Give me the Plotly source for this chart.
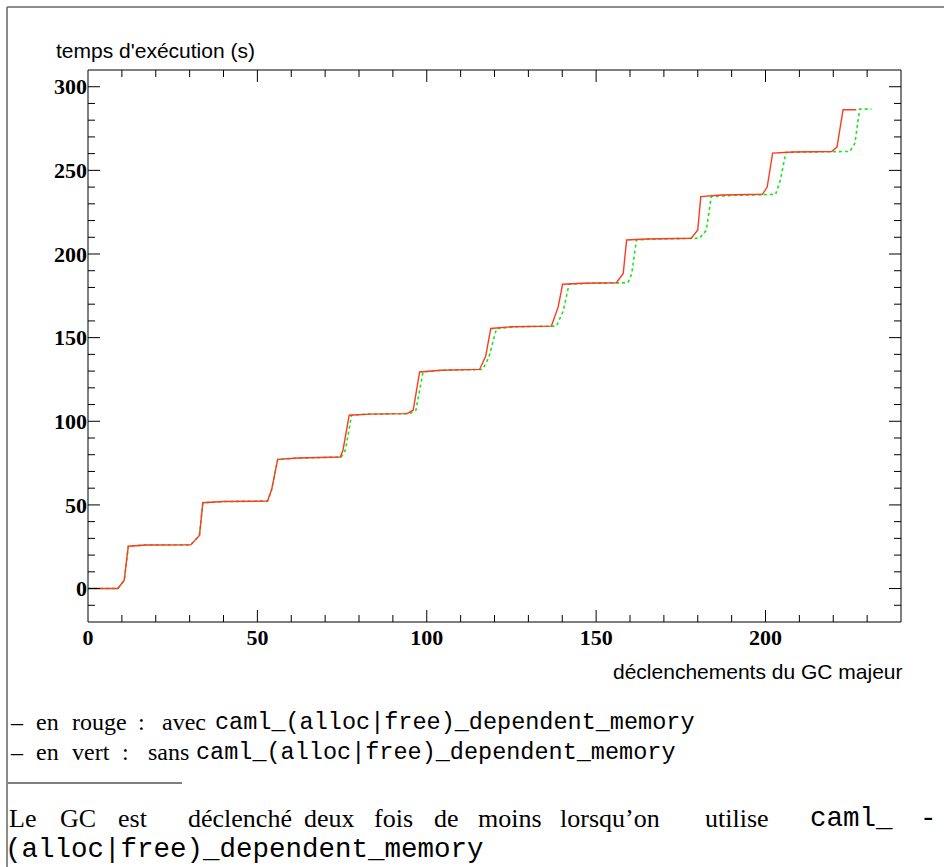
import plotly.graph_objects as go

# ---------------- data ----------------
red_x = [0, 8.8, 10.7, 11.9, 17, 30.3, 32.9, 33.9, 40, 53, 54.2, 56, 62, 74.5, 75.3, 77.1,
         83, 94.2, 96, 97.9, 104, 115.6, 117.4, 118.9, 125, 136.8, 138.8, 140.1, 146, 156,
         158, 159, 165, 178.1, 180, 180.9, 187, 199.1, 200.5, 202.1, 208, 219.5, 221.1,
         222.9, 226.8]
red_y = [0, 0, 5, 25.3, 26, 26.1, 31.7, 51.3, 52, 52.3, 59, 77.2, 78, 78.6, 83, 103.6,
         104.3, 104.6, 106.6, 129.5, 130.5, 131, 138.9, 155.5, 156.5, 156.9, 168.4, 181.9,
         182.5, 182.8, 188.4, 208.4, 209, 209.4, 214.4, 234.3, 235.3, 235.7, 240, 260.3,
         261, 261.3, 263.9, 286.2, 286.2]

green_x = [0, 8.8, 10.7, 11.9, 17, 30.3, 32.9, 33.9, 40, 53, 54.2, 56, 62, 74.8, 76, 77.8,
           83, 95, 96.8, 98.9, 105, 116.5, 118.3, 120.6, 127, 138.3, 140.3, 142, 148, 159.4,
           160.5, 161.9, 168, 180.5, 182.5, 184, 190, 203, 204.4, 206, 212, 224.9, 226.4,
           227.8, 231.3]
green_y = [0, 0, 5, 25.3, 26, 26.1, 31.7, 51.3, 52, 52.3, 59, 77.2, 78, 78.6, 83, 103.6,
           104.3, 104.6, 106.6, 129.5, 130.5, 131, 138, 155.5, 156.5, 156.9, 166, 181.9,
           182.5, 182.8, 188, 208.4, 209, 209.4, 214, 234.3, 235, 235.7, 244.3, 260.7,
           261, 261.3, 266.3, 286.6, 286.6]

x_range = [0, 240]
y_range = [-20, 310]
x_major, x_minor = 50, 10
y_major, y_minor = 50, 10

y_title = "temps d'exécution (s)"
x_title = "déclenchements du GC majeur"
func_name = "caml_(alloc|free)_dependent_memory"
red_words = ["–", "en", "rouge", ":", "avec"]
red_word_px = [8, 34, 70, 136, 160]
green_words = ["–", "en", "vert", ":", "sans"]
green_word_px = [8, 34, 70, 120, 146]
final_words = ["Le", "GC", "est", "déclenché", "deux", "fois", "de", "moins", "lorsqu’on", "utilise"]
final_word_px = [7, 58, 116, 186, 302, 372, 432, 476, 558, 703]

# ---------------- layout geometry ----------------
W, H = 944, 867
PL, PR, PT, PB = 88, 901, 70, 622
MAJOR_LEN, MINOR_LEN = 12, 7


def px(x):
    return (x - PL) / (PR - PL)


def py(y):
    return (PB - y) / (PB - PT)


fig = go.Figure()
fig.add_trace(go.Scatter(x=green_x, y=green_y, mode="lines",
                         line=dict(color="#19e619", width=1.6, dash="dot"),
                         showlegend=False))
fig.add_trace(go.Scatter(x=red_x, y=red_y, mode="lines",
                         line=dict(color="#ff3b1f", width=1.4),
                         showlegend=False))

tickfont = dict(family="Liberation Serif", size=22, color="black", weight="bold")
fig.update_xaxes(range=x_range, tickmode="linear", tick0=0, dtick=x_major, ticks="",
                 showgrid=False, zeroline=False, showline=False, tickfont=tickfont)
fig.update_yaxes(range=y_range, tickmode="linear", tick0=0, dtick=y_major, ticks="",
                 showgrid=False, zeroline=False, showline=False, tickfont=tickfont)

shapes = [dict(type="rect", xref="paper", yref="paper", x0=0, x1=1, y0=0, y1=1,
               line=dict(color="black", width=1))]
tick_line = dict(color="black", width=1)


def inner_values(lo, hi, step):
    v = (lo // step + 1) * step
    out = []
    while v < hi:
        out.append(v)
        v += step
    return out


# tick marks on all four sides, pointing inwards (pixel-sized, positioned by the axes)
for v in inner_values(x_range[0], x_range[1], x_minor):
    ln = MAJOR_LEN if v % x_major == 0 else MINOR_LEN
    shapes.append(dict(type="line", xref="x", yref="paper", ysizemode="pixel", yanchor=0,
                       x0=v, x1=v, y0=0, y1=ln, line=tick_line))
    shapes.append(dict(type="line", xref="x", yref="paper", ysizemode="pixel", yanchor=1,
                       x0=v, x1=v, y0=0, y1=-ln, line=tick_line))
for v in inner_values(y_range[0], y_range[1], y_minor):
    ln = MAJOR_LEN if v % y_major == 0 else MINOR_LEN
    shapes.append(dict(type="line", xref="paper", yref="y", xsizemode="pixel", xanchor=0,
                       y0=v, y1=v, x0=0, x1=ln, line=tick_line))
    shapes.append(dict(type="line", xref="paper", yref="y", xsizemode="pixel", xanchor=1,
                       y0=v, y1=v, x0=0, x1=-ln, line=tick_line))

# page frame (left and top) and footnote rule
shapes += [
    dict(type="line", xref="paper", yref="paper", x0=px(7), x1=px(7), y0=py(7), y1=py(870),
         line=dict(color="#666", width=1.5)),
    dict(type="line", xref="paper", yref="paper", x0=px(7), x1=px(950), y0=py(7), y1=py(7),
         line=dict(color="#666", width=1.5)),
    dict(type="line", xref="paper", yref="paper", x0=px(8), x1=px(182), y0=py(783), y1=py(783),
         line=dict(color="black", width=1.2)),
]

ann = []


def text(x, y, s, family, size, anchor="left", color="black"):
    ann.append(dict(x=px(x), y=py(y), xref="paper", yref="paper", text=s,
                    showarrow=False, xanchor=anchor, yanchor="middle",
                    font=dict(family=family, size=size, color=color)))


text(54, 50, y_title, "Liberation Sans", 21)
text(904, 671, x_title, "Liberation Sans", 21, anchor="right")

for w, xp in zip(red_words, red_word_px):
    text(xp, 722, w, "Liberation Serif", 24)
text(213, 722, func_name, "Liberation Mono", 23.5)
for w, xp in zip(green_words, green_word_px):
    text(xp, 752, w, "Liberation Serif", 24)
text(194, 752, func_name, "Liberation Mono", 23.5)

for w, xp in zip(final_words, final_word_px):
    text(xp, 818, w, "Liberation Serif", 26)
text(808, 818, "caml_", "Liberation Mono", 27.5)
text(918, 818, "-", "Liberation Mono", 27.5)
text(3, 849, "(alloc|free)_dependent_memory", "Liberation Mono", 27.5)

fig.update_layout(width=W, height=H, margin=dict(l=PL, r=W - PR, t=PT, b=H - PB),
                  paper_bgcolor="white", plot_bgcolor="white",
                  annotations=ann, shapes=shapes, showlegend=False)

fig.write_html("out.html")
